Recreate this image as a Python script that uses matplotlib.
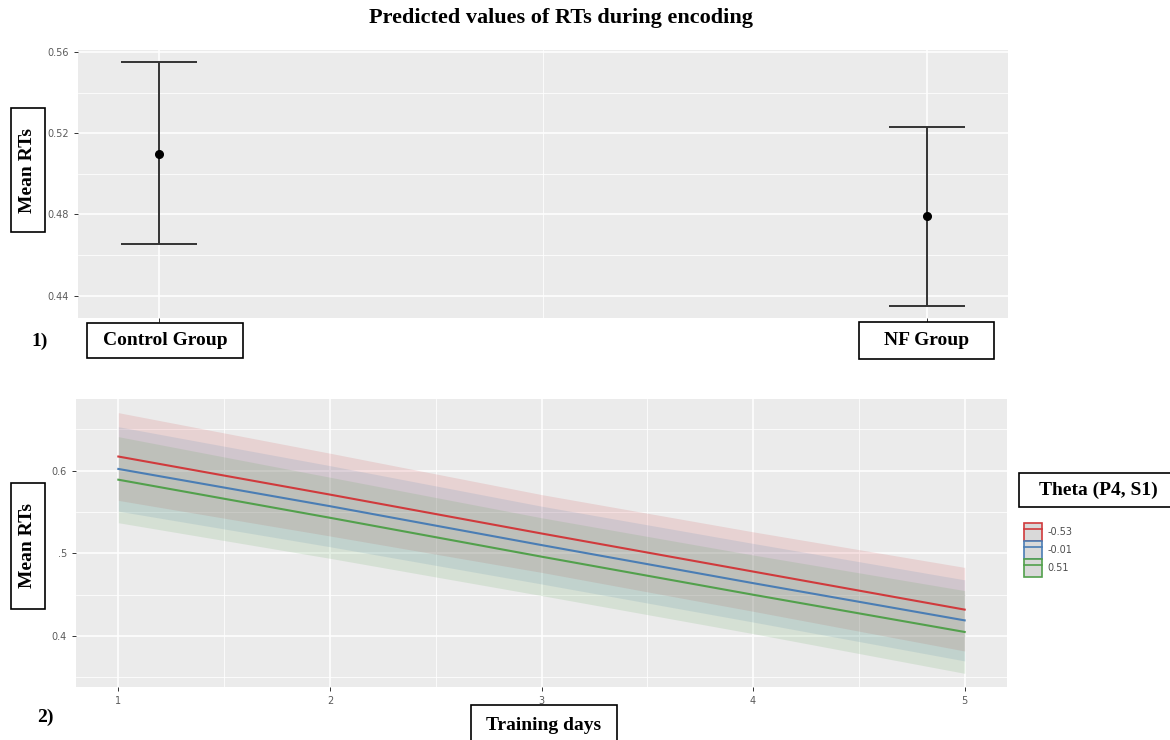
import numpy as np
import matplotlib
matplotlib.use("Agg")
import matplotlib.pyplot as plt
from matplotlib.patches import Rectangle, Patch
from matplotlib.lines import Line2D

# panel 1: predicted mean RTs per group
groups = ["Control Group", "NF Group"]
group_pos = [1, 2]
group_mean = [0.510, 0.479]
group_low = [0.4655, 0.435]
group_high = [0.555, 0.523]

# panel 2: predicted mean RTs over training days, per theta level
days = [1, 2, 3, 4, 5]
theta_levels = ["-0.53", "-0.01", "0.51"]
fit_a = [0.617, 0.571, 0.524, 0.478, 0.432]
low_a = [0.564, 0.521, 0.477, 0.430, 0.382]
high_a = [0.670, 0.621, 0.571, 0.526, 0.483]
fit_b = [0.602, 0.557, 0.510, 0.464, 0.419]
low_b = [0.551, 0.508, 0.463, 0.417, 0.370]
high_b = [0.653, 0.606, 0.557, 0.512, 0.468]
fit_c = [0.589, 0.543, 0.496, 0.450, 0.405]
low_c = [0.537, 0.494, 0.449, 0.403, 0.355]
high_c = [0.641, 0.592, 0.543, 0.498, 0.455]

colors = ["#D03A3C", "#4A7DB4", "#52A04C"]
SERIF = ["Liberation Serif", "DejaVu Serif"]
W, H = 1170, 740


def px(x, y):
    """pixel coords (from top-left) -> figure fraction"""
    return x / W, 1 - y / H


def gg_style(ax):
    ax.set_facecolor("#EBEBEB")
    for s in ax.spines.values():
        s.set_visible(False)
    ax.grid(True, which="major", color="white", linewidth=1.1)
    ax.grid(True, which="minor", color="white", linewidth=0.55)
    ax.set_axisbelow(True)
    ax.tick_params(axis="both", which="major", labelsize=7, colors="#333333",
                   labelcolor="#5a5a5a", length=3, width=0.7)
    ax.tick_params(axis="both", which="minor", length=0)


def boxed(x0, y0, x1, y1, text, rot=0, size=14):
    fx0, fy1 = px(x0, y0)
    fx1, fy0 = px(x1, y1)
    fig.add_artist(Rectangle((fx0, fy0), fx1 - fx0, fy1 - fy0, transform=fig.transFigure,
                             facecolor="white", edgecolor="black", linewidth=1.2, clip_on=False))
    fig.text((fx0 + fx1) / 2, (fy0 + fy1) / 2, text, rotation=rot, ha="center", va="center",
             fontsize=size, fontweight="bold", family=SERIF)


fig = plt.figure(figsize=(11.7, 7.4), dpi=100)

# ---- top panel
l, t = px(78, 50)
r, b = px(1008, 318)
ax1 = fig.add_axes([l, b, r - l, t - b])
gg_style(ax1)
yerr = [np.array(group_mean) - np.array(group_low), np.array(group_high) - np.array(group_mean)]
ax1.errorbar(group_pos, group_mean, yerr=yerr, fmt="o", color="black", ecolor="#333333",
             markersize=5.5, elinewidth=1.4, capsize=27.5, capthick=1.4)
ax1.set_xlim(0.895, 2.105)
ax1.set_ylim(0.429, 0.561)
ax1.set_xticks(group_pos)
ax1.set_xticks([1.5], minor=True)
ax1.set_xticklabels(["", ""])
ax1.set_yticks([0.44, 0.48, 0.52, 0.56])
ax1.set_yticks([0.46, 0.50, 0.54], minor=True)
ax1.set_yticklabels(["0.44", "0.48", "0.52", "0.56"])

# ---- bottom panel
l, t = px(76, 399)
r, b = px(1007, 687)
ax2 = fig.add_axes([l, b, r - l, t - b])
gg_style(ax2)
series = [(fit_a, low_a, high_a), (fit_b, low_b, high_b), (fit_c, low_c, high_c)]
for (fit, lo, hi), c in zip(series, colors):
    ax2.fill_between(days, lo, hi, color=c, alpha=0.14, linewidth=0)
for (fit, lo, hi), c in zip(series, colors):
    ax2.plot(days, fit, color=c, linewidth=1.5)
ax2.set_xlim(0.8, 5.2)
ax2.set_ylim(0.3385, 0.6865)
ax2.set_xticks(days)
ax2.set_xticks([1.5, 2.5, 3.5, 4.5], minor=True)
ax2.set_yticks([0.4, 0.5, 0.6])
ax2.set_yticklabels(["0.4", ".5", "0.6"])
ax2.set_yticks([0.35, 0.45, 0.55, 0.65], minor=True)

# legend: grey key with coloured outline and line
handles = [(Patch(facecolor="#D9D9D9", edgecolor=c, linewidth=1.2),
            Line2D([], [], color=c, linewidth=1.2)) for c in colors]
fig.legend(handles, theta_levels, loc="upper left", bbox_to_anchor=px(1024, 523),
           frameon=False, fontsize=7, labelcolor="#4d4d4d", handlelength=1.85,
           handleheight=2.45, labelspacing=0.0, handletextpad=0.6, borderaxespad=0,
           borderpad=0)

# ---- titles and boxed labels
fig.text(561 / W, 1 - 18 / H, "Predicted values of RTs during encoding", ha="center",
         va="center", fontsize=16, fontweight="bold", family=SERIF)
boxed(11, 108, 45, 232, "Mean RTs", rot=90)
boxed(87, 323, 243, 358, groups[0])
boxed(859, 322, 994, 359, groups[1])
boxed(11, 483, 45, 609, "Mean RTs", rot=90)
boxed(471, 705, 617, 746, "Training days")
boxed(1019, 473, 1178, 507, "Theta (P4, S1)")
fig.text(*px(40, 341), "1)", ha="center", va="center", fontsize=14, fontweight="bold", family=SERIF)
fig.text(*px(45, 717), "2)", ha="center", va="center", fontsize=14, fontweight="bold", family=SERIF)

fig.savefig("out.png", dpi=100)
